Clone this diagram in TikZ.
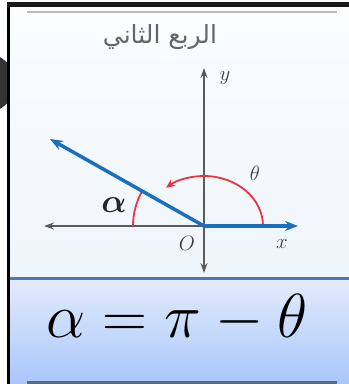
\documentclass[tikz,border=0pt]{standalone}
\usepackage{amsmath}
\usepackage{graphicx}
\usepackage{fontspec}
\usetikzlibrary{arrows.meta,calc}
\TeXXeTstate=1
\newfontfamily\arabicfont[Script=Arabic]{DejaVu Sans}
\definecolor{axisgray}{HTML}{5A5A5A}
\definecolor{vecblue}{HTML}{1A6FBF}
\definecolor{arcred}{HTML}{EE3340}
\definecolor{bandline}{HTML}{4A7AB5}
\definecolor{bandtop}{HTML}{E3ECFC}
\definecolor{bandbot}{HTML}{A9C7FA}
\definecolor{paneltop}{HTML}{FBFDFF}
\definecolor{panelbot}{HTML}{EEF5FB}
\definecolor{rulegray}{HTML}{BBBBBB}
\definecolor{botgray}{HTML}{5A6A80}
\tikzset{
  axisline/.style={draw=axisgray,line width=2.5pt,-{Stealth[length=10pt,width=7pt]}},
  vecline/.style={draw=vecblue,line width=3.5pt,-{Stealth[length=13pt,width=10pt]}},
  arcline/.style={draw=arcred,line width=1.8pt},
  lbl/.style={inner sep=0pt,font=\fontsize{20.74}{22}\selectfont,text=black!75},
}
\begin{document}
\begin{tikzpicture}[x=1pt,y=-1pt]
\useasboundingbox (0,0) rectangle (349,384);
\fill[white] (0,0) rectangle (349,384);
% panels
\shade[top color=paneltop,bottom color=panelbot] (10,7) rectangle (349,277);
\shade[top color=bandtop,bottom color=bandbot] (10,277) rectangle (349,384);
\begin{scope}
\clip (0,0) rectangle (7,384);
\fill[black!80] (-15,83) circle (30);
\end{scope}
% frame
\fill[black] (7,2) rectangle (10,384);
\fill[black!90] (7,2) rectangle (349,7);
\fill[rulegray] (27,10.5) rectangle (337,12.5);
\fill[bandline] (10,276.5) rectangle (349,279.5);
\fill[botgray] (27,381) rectangle (337,384);
% title
\node[inner sep=0pt,text=black!60,font=\fontsize{25}{25}\selectfont] (title) at (160,37) {\arabicfont\beginR الربع الثاني\endR};
% axes
\coordinate (O) at (204,226);
\coordinate (ytop) at (204,68);
\coordinate (ybot) at (204,273);
\coordinate (xleft) at (44,226);
\coordinate (xright) at (298,226);
\coordinate (tip) at (50,139);
\draw[axisline] (O) -- (ytop);
\draw[axisline] (O) -- (ybot);
\draw[axisline] (O) -- (xleft);
% arcs
\draw[arcline,-{Stealth[length=9pt,width=8pt]}] ($(O)+(59,0)$) arc[start angle=0,end angle=-130,x radius=59,y radius=50];
\draw[arcline] ($(O)+(-71,0)$) arc[start angle=180,end angle=210,radius=71];
% vectors
\draw[vecline] (O) -- (xright);
\draw[vecline] (O) -- (tip);
% labels
\node[lbl] (ylab) at (225,78) {$y$};
\node[lbl] (thlab) at (255,173) {$\theta$};
\node[lbl,text=black!85] (alab) at (114,205) {\scalebox{1.6}{$\boldsymbol{\alpha}$}};
\node[lbl] (olab) at (187,243) {$O$};
\node[lbl] (xlab) at (282,244) {$x$};
% formula
\node[inner sep=0pt,anchor=base,font=\fontsize{20.74}{22}\selectfont] (formula) at (177,337) {\scalebox{3}{$\alpha=\pi-\theta$}};
\end{tikzpicture}
\end{document}
